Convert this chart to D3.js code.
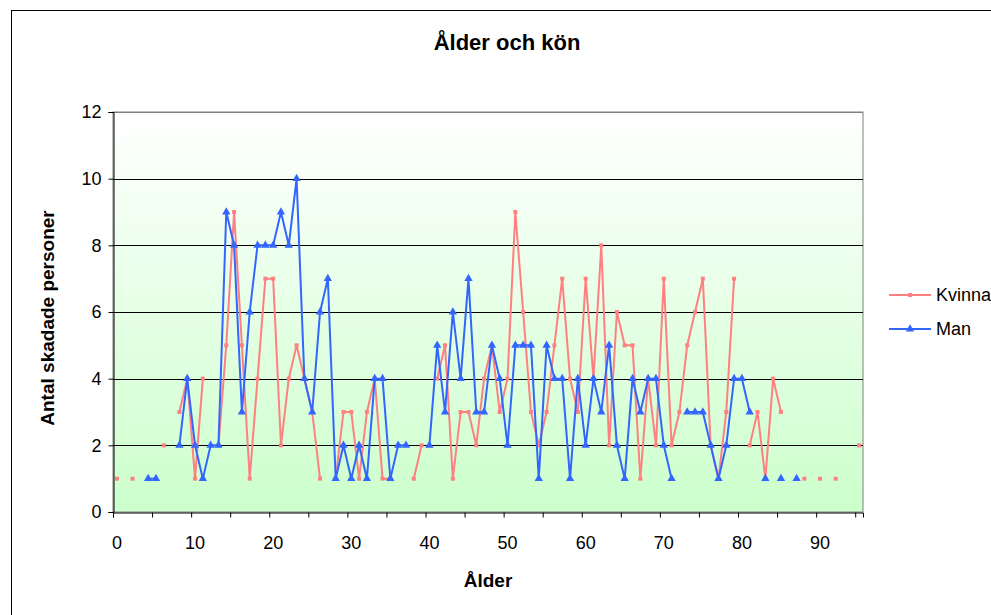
<!DOCTYPE html>
<html>
<head>
<meta charset="utf-8">
<script src="https://cdn.jsdelivr.net/npm/d3@7"></script>
<style>
  html, body { margin: 0; padding: 0; background: #ffffff; }
  svg { display: block; font-family: Arial, "Liberation Sans", sans-serif; }
</style>
</head>
<body>
<svg id="chart" width="991" height="615"></svg>
<script>
// ---- data ----
const ages = [0,1,2,3,4,5,6,7,8,9,10,11,12,13,14,15,16,17,18,19,20,21,22,23,24,25,26,27,28,29,
  30,31,32,33,34,35,36,37,38,39,40,41,42,43,44,45,46,47,48,49,50,51,52,53,54,55,56,57,58,59,
  60,61,62,63,64,65,66,67,68,69,70,71,72,73,74,75,76,77,78,79,80,81,82,83,84,85,86,87,88,89,
  90,91,92,93,94,95];
const kvinna = [1,null,1,null,null,null,2,null,3,4,1,4,null,2,5,9,5,1,4,7,7,2,4,5,4,3,1,null,1,3,
  3,1,3,4,1,1,null,null,1,2,null,4,5,1,3,3,2,4,5,3,4,9,6,3,2,3,5,7,4,3,
  7,4,8,2,6,5,5,1,4,2,7,2,3,5,6,7,2,1,3,7,null,2,3,1,4,3,null,null,1,null,
  1,null,1,null,null,2];
const man = [null,null,null,null,1,1,null,null,2,4,2,1,2,2,9,8,3,6,8,8,8,9,8,10,4,3,6,7,1,2,
  1,2,1,4,4,1,2,2,null,null,2,5,3,6,4,7,3,3,5,4,2,5,5,5,1,5,4,4,1,4,
  2,4,3,5,2,1,4,3,4,4,2,1,null,3,3,3,2,1,2,4,4,3,null,1,null,1,null,1,null,null,
  null,null,null,null,null,null];
const seriesNames = ["Kvinna", "Man"];
const xTickLabels = [0,10,20,30,40,50,60,70,80,90];
const xTickMarks = [0,5,10,15,20,25,30,35,40,45,50,55,60,65,70,75,80,85,90,95];
const yTicks = [0,2,4,6,8,10,12];
const titleText = "Ålder och kön";
const xTitle = "Ålder";
const yTitle = "Antal skadade personer";

// ---- layout ----
const svg = d3.select("#chart");
const L = 113, R = 863, T = 112, B = 512;
const pink = "#ff8080", blue = "#3366ff";
const FONT = "Arial, 'Liberation Sans', sans-serif";

const x = d3.scaleBand().domain(ages).range([L, R]).padding(0);
const xEdge = d3.scaleLinear().domain([0, ages.length]).range([L, R]);
const y = d3.scaleLinear().domain([0, 12]).range([B, T]);
const cx = a => x(a) + x.bandwidth() / 2;

// outer chart border
svg.append("rect").attr("x", 11.5).attr("y", 10.5).attr("width", 1000).attr("height", 620)
  .attr("fill", "#fff").attr("stroke", "#000").attr("stroke-width", 1);

// gradient plot background
const defs = svg.append("defs");
const grad = defs.append("linearGradient").attr("id", "bg").attr("x1", 0).attr("y1", 0).attr("x2", 0).attr("y2", 1);
grad.append("stop").attr("offset", "0%").attr("stop-color", "#ffffff");
grad.append("stop").attr("offset", "100%").attr("stop-color", "#ccffcc");
svg.append("rect").attr("x", L).attr("y", T).attr("width", R - L).attr("height", B - T)
  .attr("fill", "url(#bg)").attr("stroke", "#808080").attr("stroke-width", 1);

// gridlines
svg.append("g").selectAll("line").data(yTicks.filter(v => v > 0)).join("line")
  .attr("x1", L).attr("x2", R)
  .attr("y1", d => Math.round(y(d)) + 0.5).attr("y2", d => Math.round(y(d)) + 0.5)
  .attr("stroke", d => d === 12 ? "#808080" : "#000").attr("stroke-width", 1);

// y axis
const yAxis = svg.append("g").attr("transform", `translate(${L + 0.5},0)`)
  .call(d3.axisLeft(y).tickValues(yTicks).tickSize(5).tickPadding(7).tickFormat(d3.format("d")));
yAxis.select(".domain").attr("stroke", "#000");
yAxis.selectAll(".tick line").attr("stroke", "#000");
yAxis.selectAll("text").attr("font-size", 18).attr("fill", "#000").attr("font-family", FONT);

// x axis tick marks
const xMarks = svg.append("g").attr("transform", `translate(0,${B + 0.5})`)
  .call(d3.axisBottom(xEdge).tickValues(xTickMarks).tickSize(5).tickFormat(""));
xMarks.select(".domain").attr("stroke", "#000");
xMarks.selectAll(".tick line").attr("stroke", "#000");

// x axis labels
const xLab = svg.append("g").attr("transform", `translate(0,${B})`)
  .call(d3.axisBottom(x).tickValues(xTickLabels).tickSize(0).tickPadding(24));
xLab.select(".domain").remove();
xLab.selectAll("text").attr("font-size", 18).attr("fill", "#000").attr("font-family", FONT);

// series
function drawSeries(vals, color, marker) {
  const pts = ages.map((a, i) => ({a, v: vals[i]}));
  const line = d3.line().defined(d => d.v != null).x(d => cx(d.a)).y(d => y(d.v));
  svg.append("path").datum(pts).attr("d", line).attr("fill", "none")
    .attr("stroke", color).attr("stroke-width", 2).attr("stroke-linejoin", "round");
  const g = svg.append("g");
  const valid = pts.filter(d => d.v != null);
  if (marker === "square") {
    g.selectAll("rect").data(valid).join("rect")
      .attr("x", d => cx(d.a) - 2).attr("y", d => y(d.v) - 2)
      .attr("width", 4).attr("height", 4).attr("fill", color);
  } else {
    const sym = d3.symbol().type(d3.symbolTriangle).size(30);
    g.selectAll("path").data(valid).join("path")
      .attr("transform", d => `translate(${cx(d.a)},${y(d.v)})`)
      .attr("d", sym).attr("fill", color);
  }
}
drawSeries(kvinna, pink, "square");
drawSeries(man, blue, "triangle");

// titles
svg.append("text").attr("x", 507).attr("y", 50).attr("text-anchor", "middle")
  .attr("font-size", 22).attr("font-weight", "bold").text(titleText);
svg.append("text").attr("x", 488).attr("y", 587).attr("text-anchor", "middle")
  .attr("font-size", 19).attr("font-weight", "bold").text(xTitle);
svg.append("text").attr("transform", "translate(54,318) rotate(-90)").attr("text-anchor", "middle")
  .attr("font-size", 19).attr("font-weight", "bold").text(yTitle);

// legend
const legend = svg.append("g");
const legY = [295, 329];
[pink, blue].forEach((c, i) => {
  legend.append("line").attr("x1", 889).attr("x2", 931).attr("y1", legY[i]).attr("y2", legY[i])
    .attr("stroke", c).attr("stroke-width", 2);
  if (i === 0) {
    legend.append("rect").attr("x", 908).attr("y", legY[i] - 2).attr("width", 4).attr("height", 4).attr("fill", c);
  } else {
    legend.append("path").attr("transform", `translate(910,${legY[i]})`)
      .attr("d", d3.symbol().type(d3.symbolTriangle).size(30)).attr("fill", c);
  }
  legend.append("text").attr("x", 936).attr("y", legY[i] + 6).attr("font-size", 18)
    .text(seriesNames[i]);
});
</script>
</body>
</html>
